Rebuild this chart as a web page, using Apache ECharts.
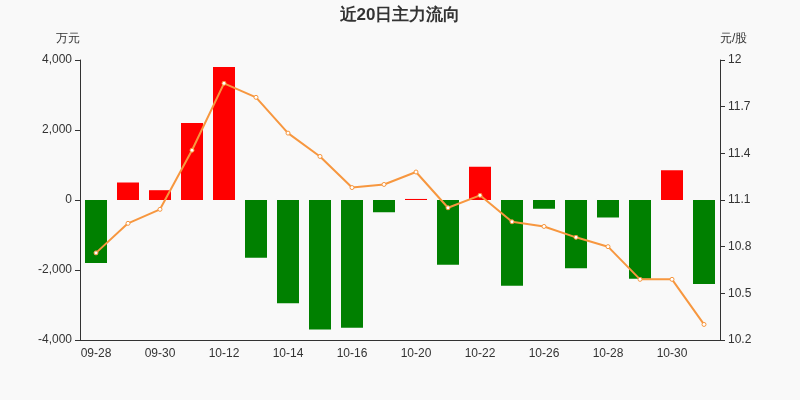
<!DOCTYPE html><html><head><meta charset="utf-8"><script src="https://cdn.jsdelivr.net/npm/echarts@6/dist/echarts.min.js"></script></head><body style="margin:0;background:#f9f9f9"><div id="c" style="width:800px;height:400px"></div><script>
const categories=['09-28','09-29','09-30','10-11','10-12','10-13','10-14','10-15','10-16','10-19','10-20','10-21','10-22','10-23','10-26','10-27','10-28','10-29','10-30','11-02'];
const flow=[-1800,500,280,2200,3800,-1650,-2950,-3700,-3650,-350,30,-1850,950,-2450,-250,-1950,-500,-2250,850,-2400];
const price=[10.76,10.95,11.04,11.42,11.85,11.76,11.53,11.38,11.18,11.20,11.28,11.05,11.13,10.96,10.93,10.86,10.80,10.59,10.59,10.30];
const c=echarts.init(document.getElementById('c'));
c.setOption({backgroundColor:'#f9f9f9',animation:false,
title:{text:'近20日主力流向',left:'center',top:2,textStyle:{fontSize:17,fontWeight:'bold',color:'#333'}},
grid:{left:80,right:80,top:60,bottom:60},
xAxis:{type:'category',data:categories,axisLine:{onZero:false,lineStyle:{color:'#333'}},axisTick:{alignWithLabel:true},axisLabel:{interval:0,color:'#333',formatter:(v,i)=>{const show=['09-28','09-30','10-12','10-14','10-16','10-20','10-22','10-26','10-28','10-30'];return show.includes(v)?v:'';}}},
yAxis:[{type:'value',name:'万元',min:-4000,max:4000,interval:2000,nameTextStyle:{color:'#333',align:'right'},axisLine:{show:true,lineStyle:{color:'#333'}},axisTick:{show:true},splitLine:{show:false},axisLabel:{color:'#333',formatter:v=>v.toLocaleString('en-US')}},
{type:'value',name:'元/股',min:10.2,max:12,interval:0.3,nameTextStyle:{color:'#333',align:'left'},axisLine:{show:true,lineStyle:{color:'#333'}},axisTick:{show:true},splitLine:{show:false},axisLabel:{color:'#333',formatter:v=>+v.toFixed(1)+''}}],
series:[{type:'bar',data:flow,barWidth:22,itemStyle:{color:p=>p.value>=0?'#ff0000':'#008000'}},
{type:'line',yAxisIndex:1,data:price,symbol:'circle',symbolSize:4,itemStyle:{color:'#fff',borderColor:'#f7973f',borderWidth:1},lineStyle:{color:'#f7973f',width:2}}]});
</script></body></html>
